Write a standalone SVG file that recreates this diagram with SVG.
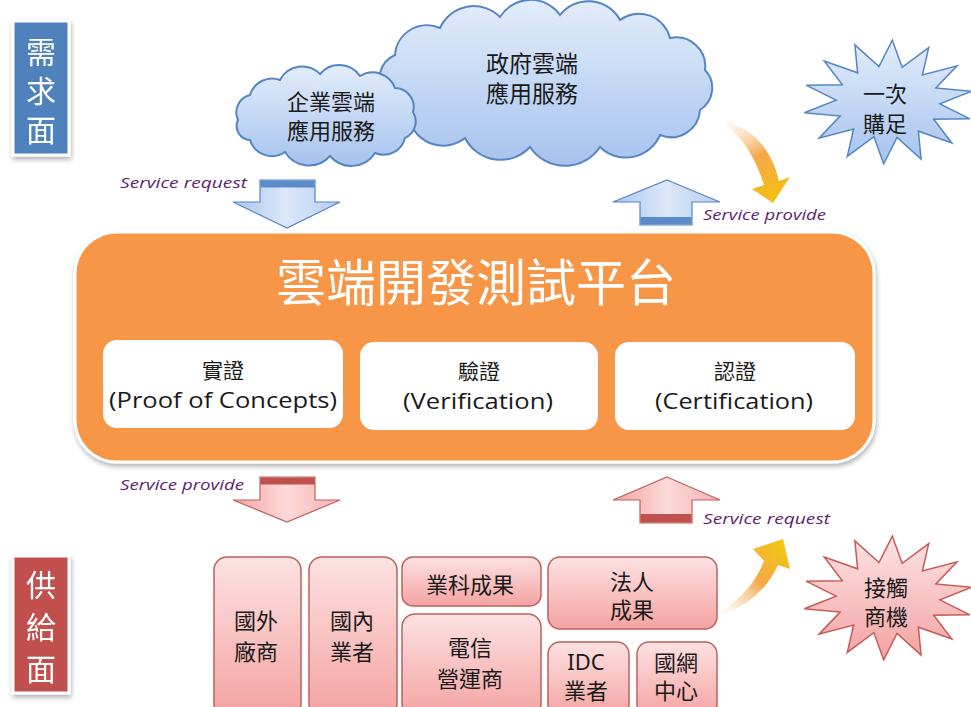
<svg xmlns="http://www.w3.org/2000/svg" width="971" height="707" viewBox="0 0 971 707">
<defs>
  <style>
    .cjk{font-family:"Noto Sans CJK TC","Noto Sans CJK SC",sans-serif;}
    .lbl{font-family:"Noto Sans CJK TC",sans-serif;font-size:30px;fill:#ffffff;text-anchor:middle;dominant-baseline:central;}
    .t{font-family:"Noto Sans CJK TC",sans-serif;font-size:22px;fill:#1a1a1a;text-anchor:middle;dominant-baseline:central;}
    .en{font-family:"Open Sans","Noto Sans",sans-serif;font-size:22px;fill:#1a1a1a;text-anchor:middle;dominant-baseline:central;}
    .svc{font-family:"Open Sans","Liberation Sans",sans-serif;font-style:italic;font-size:14px;fill:#5e1d6e;}
    .box{fill:url(#redbox);stroke:#c0605e;stroke-width:1.5;}
    .wbox{fill:#ffffff;}
    .cloud{fill:url(#bluegrad);stroke:#5585c2;stroke-width:2;}
  </style>
  <linearGradient id="bluegrad" x1="0" y1="0" x2="0" y2="1">
    <stop offset="0" stop-color="#e3edfb"/>
    <stop offset="1" stop-color="#a6c3ee"/>
  </linearGradient>
  <linearGradient id="bluearrow" x1="0" y1="0" x2="1" y2="0">
    <stop offset="0" stop-color="#a9c5ee"/>
    <stop offset="0.5" stop-color="#dde8fa"/>
    <stop offset="1" stop-color="#b5cdf0"/>
  </linearGradient>
  <linearGradient id="redarrow" x1="0" y1="0" x2="1" y2="0">
    <stop offset="0" stop-color="#f2a3a2"/>
    <stop offset="0.5" stop-color="#fddada"/>
    <stop offset="1" stop-color="#f5b2b1"/>
  </linearGradient>
  <linearGradient id="redbox" x1="0" y1="0" x2="0" y2="1">
    <stop offset="0" stop-color="#fde2e2"/>
    <stop offset="1" stop-color="#f4a3a2"/>
  </linearGradient>
  <linearGradient id="redstar" x1="0" y1="0" x2="0" y2="1">
    <stop offset="0" stop-color="#fde4e4"/>
    <stop offset="1" stop-color="#f3a2a2"/>
  </linearGradient>
  <linearGradient id="orangeTop" gradientUnits="userSpaceOnUse" x1="728" y1="120" x2="775" y2="200">
    <stop offset="0" stop-color="#fbe3cc" stop-opacity="0.2"/>
    <stop offset="0.5" stop-color="#f5a84a"/>
    <stop offset="1" stop-color="#f2c010"/>
  </linearGradient>
  <linearGradient id="orangeBot" gradientUnits="userSpaceOnUse" x1="722" y1="612" x2="785" y2="542">
    <stop offset="0" stop-color="#fbe3cc" stop-opacity="0.2"/>
    <stop offset="0.5" stop-color="#f5a84a"/>
    <stop offset="1" stop-color="#f2c810"/>
  </linearGradient>
  <filter id="shadow" x="-10%" y="-10%" width="120%" height="130%">
    <feDropShadow dx="1" dy="3" stdDeviation="2.5" flood-color="#000" flood-opacity="0.3"/>
  </filter>
</defs>

<!-- side labels -->
<g id="label-demand" filter="url(#shadow)">
  <rect x="13" y="21" width="56" height="134" fill="#4f81bd" stroke="#ffffff" stroke-width="3"/>
  <text class="lbl" x="41" y="50">需</text>
  <text class="lbl" x="41" y="89">求</text>
  <text class="lbl" x="41" y="128">面</text>
</g>
<g id="label-supply" filter="url(#shadow)">
  <rect x="13" y="556" width="56" height="137" fill="#c0504d" stroke="#ffffff" stroke-width="3"/>
  <text class="lbl" x="41" y="583">供</text>
  <text class="lbl" x="41" y="625">給</text>
  <text class="lbl" x="41" y="667">面</text>
</g>

<!-- clouds -->
<g id="cloud-gov">
  <path class="cloud" d="M385,95 A26,26 0 0 1 395,55 A32,32 0 0 1 440,28 A37,37 0 0 1 500,17 A36,36 0 0 1 560,15 A36,36 0 0 1 620,20 A32,32 0 0 1 670,38 A29,29 0 0 1 705,70 A26,26 0 0 1 700,110 A29,29 0 0 1 660,135 A37,37 0 0 1 600,147 A42,42 0 0 1 530,147 A40,40 0 0 1 465,138 A35,35 0 0 1 410,122 A22,22 0 0 1 385,95 Z"/>
  <text class="t" x="532" y="62" style="font-size:23px">政府雲端</text>
  <text class="t" x="532" y="92" style="font-size:23px">應用服務</text>
</g>
<g id="cloud-ent">
  <path class="cloud" d="M238,120 A18,18 0 0 1 250,95 A23,23 0 0 1 280,80 A25,25 0 0 1 320,74 A25,25 0 0 1 360,76 A24,24 0 0 1 395,88 A19,19 0 0 1 413,112 A18,18 0 0 1 405,138 A22,22 0 0 1 375,153 A28,28 0 0 1 330,156 A28,28 0 0 1 285,152 A23,23 0 0 1 250,140 A14,14 0 0 1 238,120 Z"/>
  <text class="t" x="331" y="100">企業雲端</text>
  <text class="t" x="331" y="129">應用服務</text>
</g>

<!-- starbursts -->
<g id="star-onestop">
  <polygon points="971.7,91.2 939.9,103.8 969.9,118.8 933.7,119.2 951.8,143 918.4,131.2 921.1,159.1 897,137.5 883.7,163.9 873.9,136.7 847.3,156.4 853.6,129 819,138.2 840.1,116 804.3,112.8 836.1,100.2 806.1,85.2 842.3,84.8 824.3,61 857.6,72.8 854.9,44.9 879,66.5 892.3,40.1 902.1,67.3 928.7,47.6 922.4,75 957,65.8 935.9,88" fill="url(#bluegrad)" stroke="#5585c2" stroke-width="1.5"/>
  <text class="t" x="885" y="92">一次</text>
  <text class="t" x="885" y="122">購足</text>
</g>
<g id="star-business">
  <polygon transform="translate(0,496)" points="971.7,91.2 939.9,103.8 969.9,118.8 933.7,119.2 951.8,143 918.4,131.2 921.1,159.1 897,137.5 883.7,163.9 873.9,136.7 847.3,156.4 853.6,129 819,138.2 840.1,116 804.3,112.8 836.1,100.2 806.1,85.2 842.3,84.8 824.3,61 857.6,72.8 854.9,44.9 879,66.5 892.3,40.1 902.1,67.3 928.7,47.6 922.4,75 957,65.8 935.9,88" fill="url(#redstar)" stroke="#c85a58" stroke-width="1.5"/>
  <text class="t" x="886" y="586">接觸</text>
  <text class="t" x="886" y="615">商機</text>
</g>

<!-- main platform -->
<g id="platform">
  <rect x="75" y="232" width="799" height="230" rx="42" fill="#f79646" stroke="#ffffff" stroke-width="3" filter="url(#shadow)"/>
  <text x="476" y="279" class="cjk" style="font-size:50px;fill:#ffffff;text-anchor:middle;dominant-baseline:central">雲端開發測試平台</text>
</g>
<g id="poc">
  <rect class="wbox" x="103" y="340" width="240" height="88" rx="14"/>
  <text class="t" x="223" y="369" style="font-size:21px">實證</text>
  <text class="en" x="223" y="399" textLength="228" lengthAdjust="spacingAndGlyphs">(Proof of Concepts)</text>
</g>
<g id="verification">
  <rect class="wbox" x="360" y="342" width="238" height="88" rx="14"/>
  <text class="t" x="479" y="370" style="font-size:21px">驗證</text>
  <text class="en" x="478" y="400" textLength="150" lengthAdjust="spacingAndGlyphs">(Verification)</text>
</g>
<g id="certification">
  <rect class="wbox" x="615" y="342" width="240" height="88" rx="14"/>
  <text class="t" x="735" y="370" style="font-size:21px">認證</text>
  <text class="en" x="734" y="400" textLength="158" lengthAdjust="spacingAndGlyphs">(Certification)</text>
</g>

<!-- supply boxes -->
<g id="foreign">
  <rect class="box" x="214" y="557" width="87" height="160" rx="13"/>
  <text class="t" x="256" y="619">國外</text>
  <text class="t" x="256" y="650">廠商</text>
</g>
<g id="domestic">
  <rect class="box" x="309" y="557" width="88" height="160" rx="13"/>
  <text class="t" x="352" y="619">國內</text>
  <text class="t" x="352" y="650">業者</text>
</g>
<g id="industry">
  <rect class="box" x="402" y="557" width="139" height="49" rx="11"/>
  <text class="t" x="470" y="583">業科成果</text>
</g>
<g id="telecom">
  <rect class="box" x="402" y="614" width="139" height="103" rx="13"/>
  <text class="t" x="470" y="646">電信</text>
  <text class="t" x="470" y="677">營運商</text>
</g>
<g id="legal">
  <rect class="box" x="548" y="557" width="169" height="72" rx="12"/>
  <text class="t" x="632" y="580">法人</text>
  <text class="t" x="632" y="608">成果</text>
</g>
<g id="idc">
  <rect class="box" x="548" y="642" width="81" height="75" rx="12"/>
  <text class="t" x="586" y="661" style="font-family:'Noto Sans',sans-serif">IDC</text>
  <text class="t" x="586" y="689">業者</text>
</g>
<g id="nchc">
  <rect class="box" x="637" y="642" width="80" height="75" rx="12"/>
  <text class="t" x="676" y="661">國網</text>
  <text class="t" x="676" y="689">中心</text>
</g>

<!-- connectors -->
<g id="connectors">
  <g id="arrow-req-top">
    <polygon points="260,180 315,180 315,202 340,202 287,228 233,202 260,202" fill="url(#bluearrow)" stroke="#5585c2" stroke-width="1.2"/>
    <rect x="260.5" y="180.5" width="54" height="7" fill="#5b8bc8"/>
    <text class="svc" x="120" y="188" textLength="127" lengthAdjust="spacingAndGlyphs">Service request</text>
  </g>
  <g id="arrow-prov-top">
    <polygon points="667,180 720,202 692,202 692,225 640,225 640,202 613,202" fill="url(#bluearrow)" stroke="#5585c2" stroke-width="1.2"/>
    <rect x="640.5" y="217" width="51" height="7.5" fill="#5b8bc8"/>
    <text class="svc" x="703" y="220" textLength="123" lengthAdjust="spacingAndGlyphs">Service provide</text>
  </g>
  <g id="arrow-prov-bot">
    <polygon points="260,477 315,477 315,500 340,500 287,522 233,500 260,500" fill="url(#redarrow)" stroke="#c0605e" stroke-width="1.2"/>
    <rect x="260.5" y="477.5" width="54" height="7" fill="#c0504d"/>
    <text class="svc" x="120" y="490" textLength="124" lengthAdjust="spacingAndGlyphs">Service provide</text>
  </g>
  <g id="arrow-req-bot">
    <polygon points="667,477 720,500 692,500 692,523 640,523 640,500 613,500" fill="url(#redarrow)" stroke="#c0605e" stroke-width="1.2"/>
    <rect x="640.5" y="514" width="51" height="8.5" fill="#c0504d"/>
    <text class="svc" x="703" y="524" textLength="127" lengthAdjust="spacingAndGlyphs">Service request</text>
  </g>
  <path id="curve-top" d="M726,121 Q768,134 779,181 L790,177 L773,203 L752,189 L764,185 Q752,146 726,124 Z" fill="url(#orangeTop)"/>
  <path id="curve-bot" d="M721,611 Q752,592 764,561 L753,549 L783,539 L790,569 L778,565 Q762,600 724,614 Z" fill="url(#orangeBot)"/>
</g>
</svg>
